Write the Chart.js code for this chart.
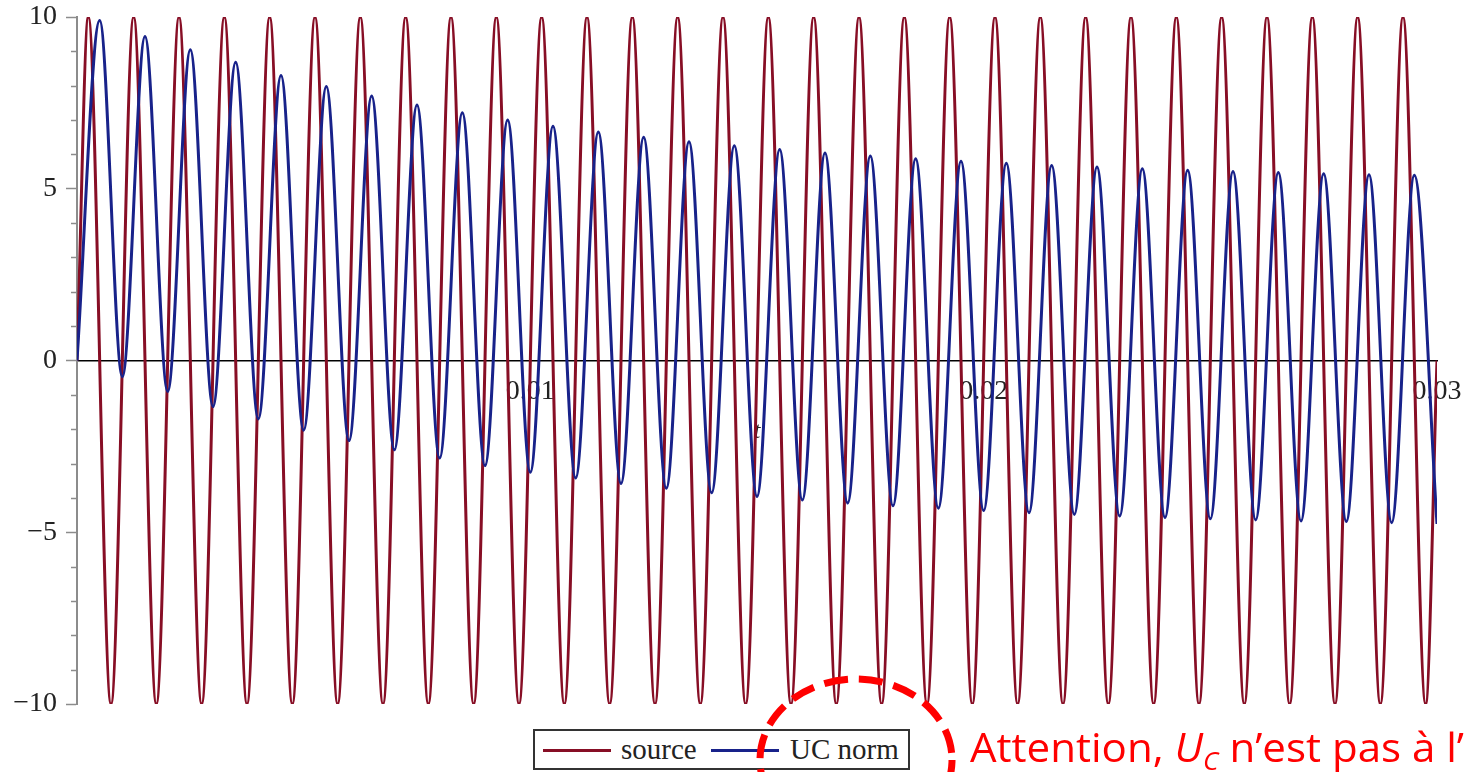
<!DOCTYPE html>
<html>
<head>
<meta charset="utf-8">
<script src="https://cdn.jsdelivr.net/npm/chart.js@4.4.1/dist/chart.umd.min.js"></script>
<style>
  html, body { margin: 0; padding: 0; background: #fff; }
  body { width: 1468px; height: 772px; overflow: hidden; position: relative; }
  #plot { position: absolute; left: 0; top: 0; }
  #legend {
    position: absolute; left: 533px; top: 729px; width: 373px; height: 37px;
    border: 2px solid #333; background: #fff;
    font-family: 'Liberation Serif', 'Times New Roman', serif; font-size: 29px; color: #222;
  }
  #legend .swatch { position: absolute; top: 18px; width: 68px; height: 3px; }
  #legend .name { position: absolute; top: 0; height: 37px; line-height: 37px; white-space: nowrap; }
  #ring { position: absolute; left: 0; top: 0; pointer-events: none; }
  #note {
    position: absolute; left: 970px; top: 727px; color: #f00; white-space: nowrap;
    font-family: 'Open Sans', 'Noto Sans', sans-serif; font-size: 40px; line-height: 40px;
    transform-origin: 0 0;
  }
  #note sub { font-size: 25px; position: relative; top: 8px; vertical-align: baseline; }
</style>
</head>
<body>
<canvas id="plot" width="1468" height="772"></canvas>
<div id="legend"></div>
<svg id="ring" width="1468" height="772">
  <ellipse cx="856" cy="760" rx="96" ry="81" fill="none" stroke="#ff0000" stroke-width="7" stroke-dasharray="24 11"/>
</svg>
<div id="note"><span id="noteText">Attention, <i>U<sub>C</sub></i> n’est pas à l’</span></div>
<script>
// series names / colours
const seriesNames  = ['source', 'UC norm'];
const seriesColors = ['#870e25', '#18228a'];

// source: extremes of the driving sine (t in s, volts)
const sourceTime = [0,
  0.00025,0.00075,0.00125,0.00175,0.00225,0.00275,0.00325,0.00375,0.00425,0.00475,
  0.00525,0.00575,0.00625,0.00675,0.00725,0.00775,0.00825,0.00875,0.00925,0.00975,
  0.01025,0.01075,0.01125,0.01175,0.01225,0.01275,0.01325,0.01375,0.01425,0.01475,
  0.01525,0.01575,0.01625,0.01675,0.01725,0.01775,0.01825,0.01875,0.01925,0.01975,
  0.02025,0.02075,0.02125,0.02175,0.02225,0.02275,0.02325,0.02375,0.02425,0.02475,
  0.02525,0.02575,0.02625,0.02675,0.02725,0.02775,0.02825,0.02875,0.02925,0.02975,
  0.03];
const sourceVolt = [0,
  10,-10,10,-10,10,-10,10,-10,10,-10,
  10,-10,10,-10,10,-10,10,-10,10,-10,
  10,-10,10,-10,10,-10,10,-10,10,-10,
  10,-10,10,-10,10,-10,10,-10,10,-10,
  10,-10,10,-10,10,-10,10,-10,10,-10,
  10,-10,10,-10,10,-10,10,-10,10,-10,
  0];

// UC norm: peaks and troughs
const ucTime = [0,
  0.0005,0.001,0.0015,0.002,0.0025,0.003,0.0035,0.004,0.0045,0.005,
  0.0055,0.006,0.0065,0.007,0.0075,0.008,0.0085,0.009,0.0095,0.010,
  0.0105,0.011,0.0115,0.012,0.0125,0.013,0.0135,0.014,0.0145,0.015,
  0.0155,0.016,0.0165,0.017,0.0175,0.018,0.0185,0.019,0.0195,0.020,
  0.0205,0.021,0.0215,0.022,0.0225,0.023,0.0235,0.024,0.0245,0.025,
  0.0255,0.026,0.0265,0.027,0.0275,0.028,0.0285,0.029,0.0295,0.030];
const ucVolt = [0,
  9.90,-0.47, 9.43,-0.90, 9.05,-1.34, 8.68,-1.70, 8.30,-2.03,
  7.98,-2.33, 7.70,-2.60, 7.44,-2.84, 7.21,-3.06, 7.00,-3.25,
  6.82,-3.42, 6.65,-3.58, 6.50,-3.72, 6.37,-3.85, 6.25,-3.96,
  6.14,-4.06, 6.04,-4.15, 5.95,-4.23, 5.87,-4.30, 5.80,-4.37,
  5.74,-4.43, 5.68,-4.48, 5.63,-4.53, 5.58,-4.57, 5.54,-4.61,
  5.50,-4.64, 5.47,-4.67, 5.44,-4.69, 5.41,-4.72, 5.39,-4.76];

// axes
const xTickValues = [0.01, 0.02, 0.03];
const xTickLabels = ['0.01', '0.02', '0.03'];
const yMajorTicks = [-10, -5, 0, 5, 10];
const yTickLabels = ['\u221210', '\u22125', '0', '5', '10'];

const axisGray = '#8c8c8c';
const ink = '#222';
const serif = "'Liberation Serif', 'Times New Roman', serif";

const isMajor = v => yMajorTicks.includes(Math.round(v));

// short minor ticks on the y axis
const minorTicks = {
  id: 'minorTicks',
  afterDraw(chart) {
    const y = chart.scales.y, ctx = chart.ctx;
    ctx.save();
    ctx.strokeStyle = axisGray; ctx.lineWidth = 1.5;
    y.ticks.forEach(t => {
      if (isMajor(t.value)) return;
      const py = Math.round(y.getPixelForValue(t.value)) + 0.5;
      ctx.beginPath(); ctx.moveTo(y.right - 6, py); ctx.lineTo(y.right, py); ctx.stroke();
    });
    ctx.restore();
  }
};

const toPoints = (ts, vs) => ts.map((t, i) => ({x: t, y: vs[i]}));

new Chart(document.getElementById('plot'), {
  type: 'line',
  data: {
    datasets: [
      {label: seriesNames[0], data: toPoints(sourceTime, sourceVolt), borderColor: seriesColors[0],
       borderWidth: 3, pointRadius: 0, cubicInterpolationMode: 'monotone', order: 2},
      {label: seriesNames[1], data: toPoints(ucTime, ucVolt), borderColor: seriesColors[1],
       borderWidth: 3, pointRadius: 0, cubicInterpolationMode: 'monotone', order: 1}
    ]
  },
  options: {
    responsive: false, animation: false, devicePixelRatio: 1,
    layout: {padding: {left: 0, right: 31, top: 17, bottom: 68}},
    plugins: {legend: {display: false}, tooltip: {enabled: false}},
    scales: {
      x: {
        type: 'linear', min: 0, max: 0.03, position: {y: 0},
        afterBuildTicks: s => { s.ticks = xTickValues.map(v => ({value: v})); },
        // labels may overhang into the page margin, like in the original
        afterFit: s => { s.paddingLeft = 0; s.paddingRight = 0; },
        ticks: {callback: (v, i) => xTickLabels[i], font: {family: serif, size: 28, lineHeight: 1}, color: ink,
                padding: 17, maxRotation: 0, autoSkip: false},
        grid: {display: false, drawTicks: false},
        border: {display: true, color: '#000', width: 1.5},
        title: {display: true, text: 't', color: ink, padding: {top: 0, bottom: 0},
                font: {family: serif, size: 24, style: 'italic', lineHeight: 0.8}}
      },
      y: {
        type: 'linear', min: -10, max: 10,
        afterFit: s => { s.width = 77; s.paddingTop = 0; s.paddingBottom = 0; },
        ticks: {stepSize: 1, autoSkip: false, padding: 9, color: ink, font: {family: serif, size: 28, lineHeight: 1},
                callback: v => isMajor(v) ? yTickLabels[yMajorTicks.indexOf(Math.round(v))] : ''},
        grid: {drawOnChartArea: false, tickLength: 11, tickWidth: 1.5,
               tickColor: c => isMajor(c.tick.value) ? axisGray : 'rgba(0,0,0,0)'},
        border: {color: axisGray, width: 2}
      }
    }
  },
  plugins: [minorTicks]
});

// legend built from the series
const legend = document.getElementById('legend');
const swatchLeft = [8, 176], nameLeft = [86, 255];
seriesNames.forEach((n, i) => {
  const sw = document.createElement('div');
  sw.className = 'swatch'; sw.style.left = swatchLeft[i] + 'px'; sw.style.background = seriesColors[i];
  const tx = document.createElement('div');
  tx.className = 'name'; tx.style.left = nameLeft[i] + 'px'; tx.textContent = n;
  legend.appendChild(sw); legend.appendChild(tx);
});

// squeeze the note to the width of the original text
const note = document.getElementById('note');
const w = document.getElementById('noteText').getBoundingClientRect().width;
note.style.transform = 'scaleX(' + (494 / w) + ')';
</script>
</body>
</html>
